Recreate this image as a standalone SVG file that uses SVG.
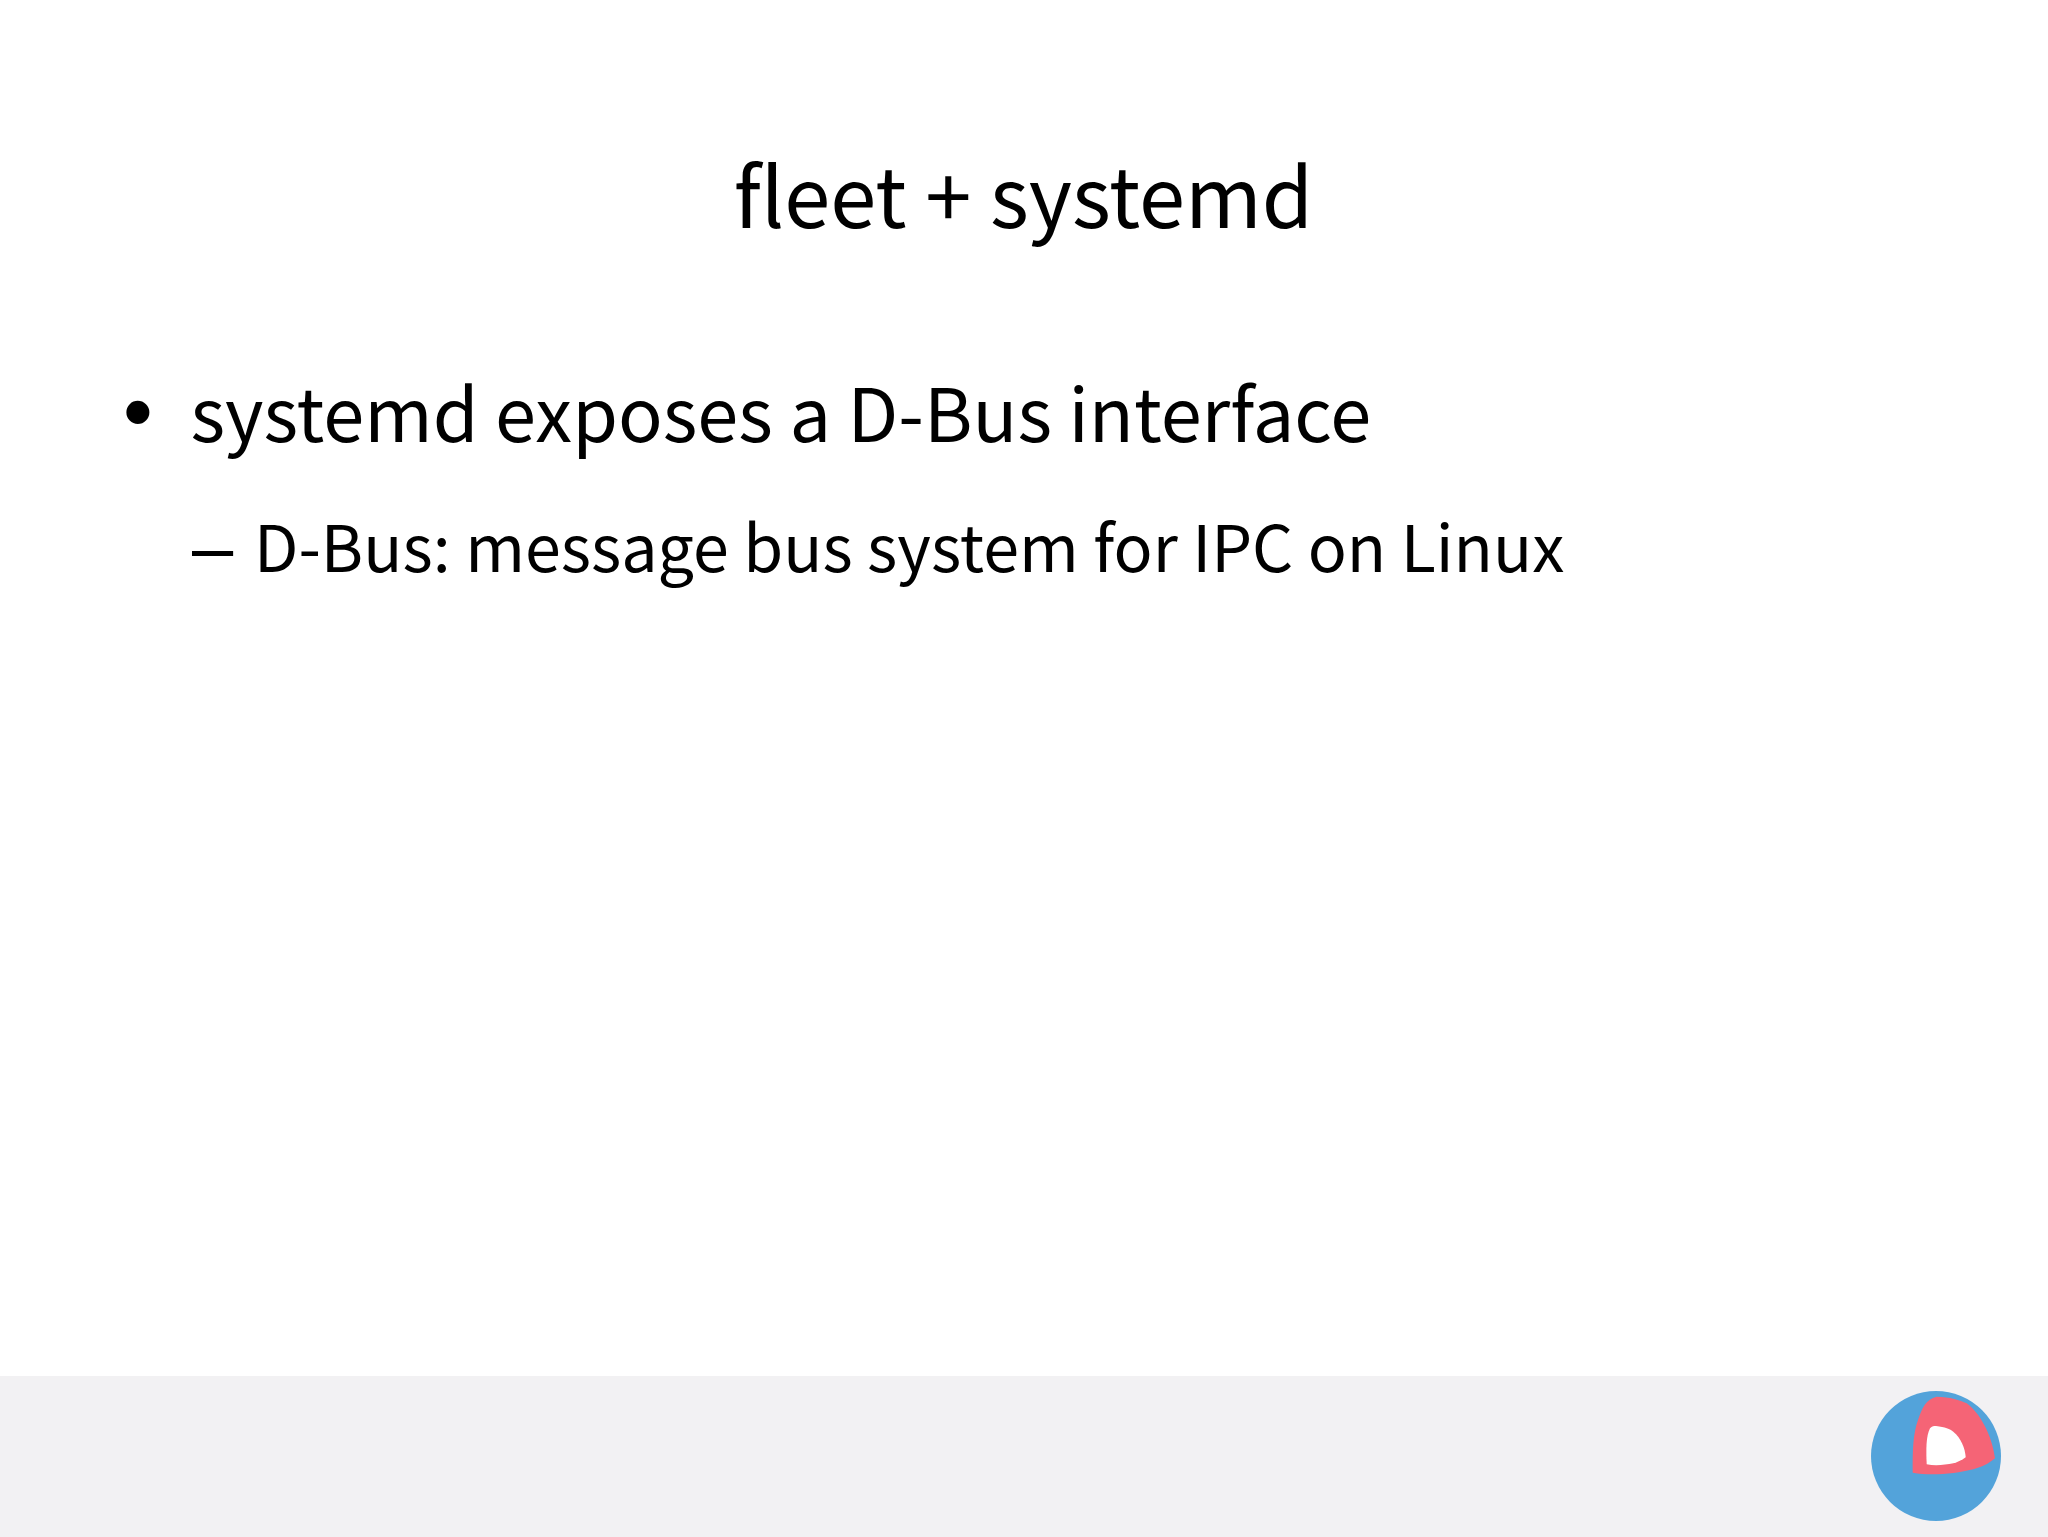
<svg xmlns="http://www.w3.org/2000/svg" width="2048" height="1537" viewBox="0 0 2048 1537">
<style>
text{font-family:"Noto Sans CJK SC","Source Sans Pro","Noto Sans",sans-serif;fill:#000}
.t{font-size:83px}.b{font-size:73.900px}.s{font-size:64.600px}
.g{font-family:"Liberation Sans",Arial,sans-serif}
</style>
<rect width="2048" height="1537" fill="#fff"/>
<rect id="footer" y="1376" width="2048" height="161" fill="#f2f1f3"/>
<text id="title" class="t" x="1023.500" y="228" text-anchor="middle">fleet + systemd</text>
<g id="bullet1"><text class="g" font-size="85" x="123" y="440.500">•</text><text class="b" x="190.500" y="442">systemd exposes a D-Bus interface</text></g>
<g id="bullet2"><text class="g" font-size="74" x="192" y="572">–</text><text class="s" x="254" y="572">D-Bus: message bus system for IPC on Linux</text></g>
<g id="logo">
<circle cx="1936" cy="1456" r="65" fill="#53a3da"/>
<path d="M1912.700 1472.700C1912.500 1450 1913 1434 1918 1420C1922 1408 1926 1399 1936.700 1396.700C1950 1397 1960 1400 1966.700 1403.300C1980 1413 1992 1435 1995 1458.300C1988 1464 1982 1467 1973.300 1469.300C1955 1474 1930 1476 1912.700 1472.700Z" fill="#f56476"/>
<path d="M1926.700 1464.300C1926 1450 1926 1436 1930 1428.300C1932 1426 1934 1426 1936 1426C1945 1427 1950 1429 1953.300 1431.700C1961 1438 1965 1448 1965.700 1457.300C1962 1460 1958 1462 1953.300 1463.300C1945 1465 1935 1466 1926.700 1464.300Z" fill="#fff"/>
</g>
</svg>
